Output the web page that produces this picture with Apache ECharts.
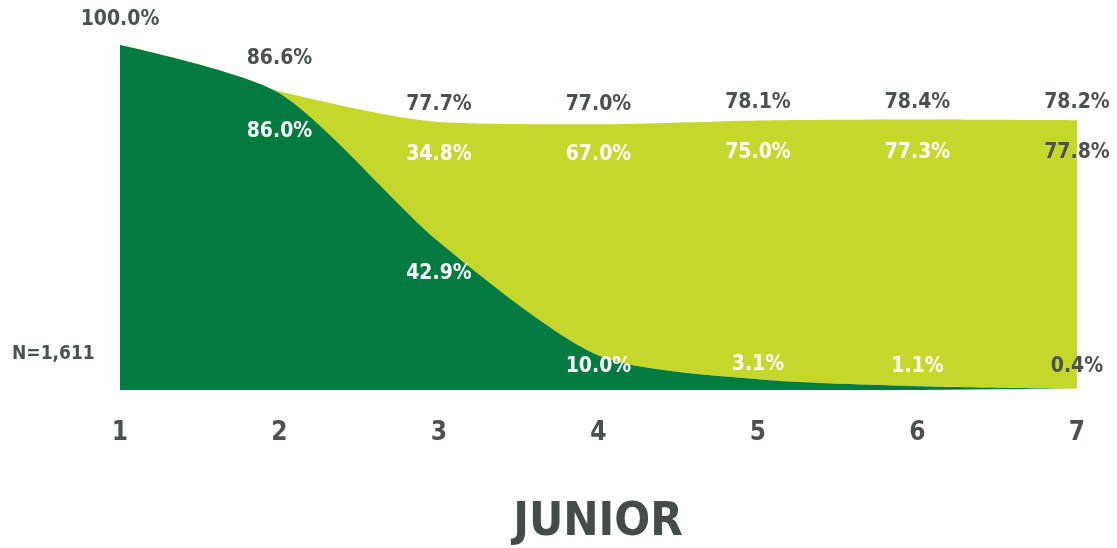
<!DOCTYPE html>
<html>
<head>
<meta charset="utf-8">
<script src="https://cdn.jsdelivr.net/npm/echarts@6/dist/echarts.min.js"></script>
<style>
  html, body { margin: 0; padding: 0; background: #ffffff; }
  #chart { width: 1117px; height: 548px; }
</style>
</head>
<body>
<div id="chart"></div>
<script>
// Year-by-year retention, cohort N=1,611
const years = ['1', '2', '3', '4', '5', '6', '7'];
const stillJunior = [100.0, 86.0, 42.9, 10.0, 3.1, 1.1, 0.4];
const movedOn = [0, 0.6, 34.8, 67.0, 75.0, 77.3, 77.8];
const totalRetained = [100.0, 86.6, 77.7, 77.0, 78.1, 78.4, 78.2];
const cohortLabel = 'N=1,611';
const title = 'JUNIOR';

const FONT = '"DejaVu Sans Condensed", "Liberation Sans Narrow", "DejaVu Sans", sans-serif';
const GRAY = '#4b5050';
const DARK = '#017b3f';
const LIGHT = '#c6d72b';
const CLEAR = 'rgba(0,0,0,0)';

// label placement per category (pixel offsets from each point)
const totalOffsets = [[0, -2], [0, -10], [0, 6], [0, 3], [0, 5], [0, 6], [0, 5]];
const darkOffsets = [null, [0, 22], [0, 16], [0, -5], [0, -31], [0, -36], [0, -38]];
const lightOffsets = [null, null, [0, 17], [0, 14], [0, 16], [0, 17], [0, 16]];

const fmt = v => v.toFixed(1) + '%';

const labelBase = {
  fontFamily: FONT,
  fontWeight: 'bold',
  fontSize: 21
};

const darkData = stillJunior.map((v, i) => ({
  value: v,
  label: darkOffsets[i] ? {
    show: true, position: 'bottom', offset: darkOffsets[i],
    color: i === years.length - 1 ? GRAY : '#ffffff'
  } : { show: false }
}));

// the share that moved on is stacked on top of the dark area; its label sits
// just under the stacked top edge
const lightData = movedOn.map((v, i) => ({
  value: v,
  label: lightOffsets[i] ? {
    show: true, position: 'bottom', offset: lightOffsets[i],
    color: i === years.length - 1 ? GRAY : '#ffffff'
  } : { show: false }
}));

const totalData = totalRetained.map((v, i) => ({
  value: v,
  label: { show: true, position: 'top', offset: totalOffsets[i], color: GRAY }
}));

const chart = echarts.init(document.getElementById('chart'));
chart.setOption({
  animation: false,
  backgroundColor: '#ffffff',
  grid: { left: 120, right: 40, top: 45, bottom: 158 },
  xAxis: {
    type: 'category',
    data: years,
    boundaryGap: false,
    axisLine: { show: false },
    axisTick: { show: false },
    axisLabel: {
      margin: 30,
      color: GRAY,
      fontFamily: FONT,
      fontWeight: 'bold',
      fontSize: 26
    }
  },
  yAxis: {
    type: 'value',
    min: 0,
    max: 100,
    show: false,
    splitLine: { show: false }
  },
  series: [
    {
      name: 'still',
      type: 'line',
      stack: 'share',
      data: darkData,
      smooth: 0.25,
      symbol: 'circle',
      symbolSize: 1,
      showSymbol: true,
      itemStyle: { color: CLEAR },
      lineStyle: { width: 0 },
      areaStyle: { color: DARK, opacity: 1 },
      label: Object.assign({ formatter: p => fmt(p.value) }, labelBase),
      z: 3
    },
    {
      name: 'moved',
      type: 'line',
      stack: 'share',
      data: lightData,
      smooth: 0.25,
      symbol: 'circle',
      symbolSize: 1,
      showSymbol: true,
      itemStyle: { color: CLEAR },
      lineStyle: { width: 0 },
      areaStyle: { color: LIGHT, opacity: 1 },
      label: Object.assign({ formatter: p => fmt(p.value) }, labelBase),
      z: 2
    },
    {
      name: 'total',
      type: 'line',
      data: totalData,
      symbol: 'circle',
      symbolSize: 1,
      showSymbol: true,
      itemStyle: { color: CLEAR },
      lineStyle: { width: 0, color: CLEAR },
      label: Object.assign({ formatter: p => fmt(p.value), distance: 12 }, labelBase),
      z: 4
    }
  ],
  graphic: [
    {
      type: 'text',
      left: 12,
      top: 345,
      style: {
        text: cohortLabel,
        fill: GRAY,
        font: 'bold 19px ' + FONT
      }
    },
    {
      type: 'text',
      x: 598,
      y: 499,
      style: {
        text: title,
        fill: '#434c49',
        font: 'bold 47px ' + FONT,
        textAlign: 'center'
      }
    }
  ]
});
</script>
</body>
</html>
